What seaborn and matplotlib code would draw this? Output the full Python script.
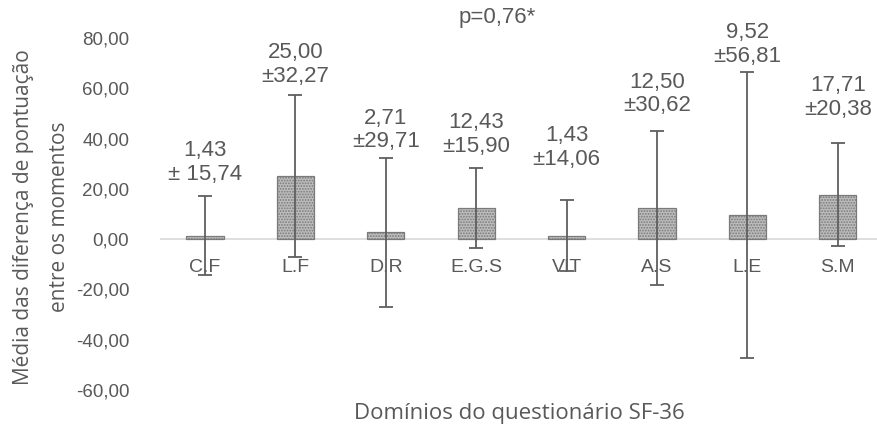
import numpy as np
import pandas as pd
import matplotlib
matplotlib.use("Agg")
import matplotlib.pyplot as plt
import seaborn as sns

# SF-36 domains: mean difference between moments and standard deviation
domains = ["C.F", "L.F", "D.R", "E.G.S", "VIT", "A.S", "L.E", "S.M"]
means = [1.43, 25.00, 2.71, 12.43, 1.43, 12.50, 9.52, 17.71]
sds = [15.74, 32.27, 29.71, 15.90, 14.06, 30.62, 56.81, 20.38]
mean_text = ["1,43", "25,00", "2,71", "12,43", "1,43", "12,50", "9,52", "17,71"]
sd_text = ["± 15,74", "±32,27", "±29,71", "±15,90", "±14,06", "±30,62", "±56,81", "±20,38"]
y_ticks = [-60, -40, -20, 0, 20, 40, 60, 80]
y_tick_labels = ["-60,00", "-40,00", "-20,00", "0,00", "20,00", "40,00", "60,00", "80,00"]

# vertical lift of each value label above its error-bar cap (points)
label_lift = [24, 22, 20, 24, 38, 26.5, 20, 33]

sns.set_theme(style="white")
plt.rcParams["font.family"] = ["Liberation Sans", "DejaVu Sans"]
plt.rcParams["hatch.linewidth"] = 0.9

TXT = "#595959"

df = pd.DataFrame({"domain": domains, "mean": means})

fig = plt.figure(figsize=(8.77, 4.25), dpi=100)
ax = fig.add_axes([0.1822, 0.0824, 0.8246, 0.8282])

sns.barplot(data=df, x="domain", y="mean", order=domains, ax=ax,
            color="#bdbdbd", width=0.41, saturation=1, edgecolor="#7a7a7a",
            linewidth=0.9, errorbar=None, zorder=2)
for patch in ax.patches:
    patch.set_hatch("......")

ax.axhline(0, color="#d9d9d9", lw=1.2, zorder=1)

pos = np.arange(len(domains))
ax.errorbar(pos, means, yerr=sds, fmt="none", ecolor="#5f5f5f",
            elinewidth=1.3, capsize=5, capthick=1.3, zorder=4)

for i in range(len(domains)):
    ax.annotate(f"{mean_text[i]}\n{sd_text[i]}", xy=(pos[i], means[i] + sds[i]),
                xytext=(0, label_lift[i]), textcoords="offset points",
                ha="center", va="center", fontsize=16, color=TXT,
                linespacing=1.15, zorder=5)

ax.set_xlim(-0.5, len(domains) - 0.5)
ax.set_ylim(-60, 80)
ax.set_yticks(y_ticks)
ax.set_yticklabels(y_tick_labels)
ax.set_xlabel("")
ax.set_ylabel("")
for s in ax.spines.values():
    s.set_visible(False)
ax.spines["bottom"].set_position(("data", 0))
ax.tick_params(axis="y", length=0, pad=22, labelsize=13.5, labelcolor=TXT)
ax.tick_params(axis="x", length=0, pad=14, labelsize=14, labelcolor=TXT)
for lab in ax.get_xticklabels():
    lab.set_zorder(3)

fig.text(0.567, 0.958, "p=0,76*", ha="center", va="center", fontsize=16, color=TXT)
fig.text(0.047, 0.49, "Média das diferença de pontuação\nentre os momentos",
         rotation=90, ha="center", va="center", multialignment="center",
         fontsize=15, color=TXT, linespacing=1.95, family=["Open Sans", "DejaVu Sans"])
fig.text(0.592, 0.028, "Domínios do questionário SF-36", ha="center", va="center",
         fontsize=16, color=TXT, family=["Open Sans", "DejaVu Sans"])

fig.savefig("out.png", dpi=100, facecolor="white")
